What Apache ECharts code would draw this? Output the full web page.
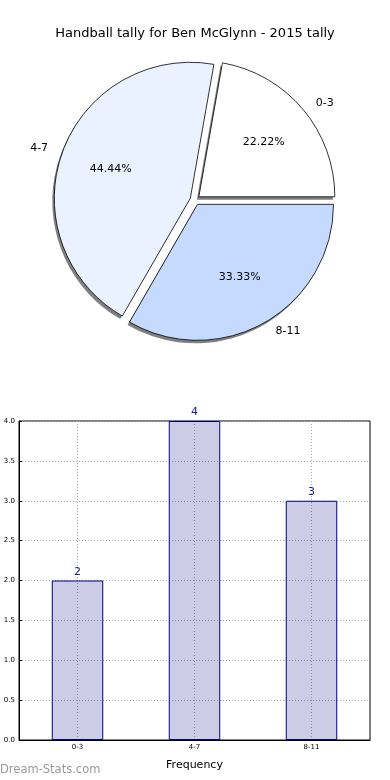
<!DOCTYPE html>
<html><head><meta charset="utf-8">
<script src="https://cdn.jsdelivr.net/npm/echarts@6/dist/echarts.min.js"></script>
<style>html,body{margin:0;padding:0;background:#fff}#c{width:390px;height:780px}</style>
</head><body><div id="c"></div>
<script>
var categories = ['0-3', '4-7', '8-11'];
var counts = [2, 4, 3];
var pieColors = ['#ffffff', '#eaf1ff', '#c6d9ff'];
var yTicks = [0, 0.5, 1, 1.5, 2, 2.5, 3, 3.5, 4];

var font = 'DejaVu Sans';
var total = counts.reduce(function (a, b) { return a + b; }, 0);
var pieData = categories.map(function (c, i) {
  return { name: c, value: counts[i], selected: true, itemStyle: { color: pieColors[i] } };
});
var plainData = categories.map(function (c, i) {
  return { name: c, value: counts[i], selected: true };
});

var pieCenter = [195, 200];
var pieR = 136;

var chart = echarts.init(document.getElementById('c'));
chart.setOption({
  animation: false,
  title: {
    text: 'Handball tally for Ben McGlynn - 2015 tally',
    left: 'center', top: 22,
    textStyle: { fontFamily: font, fontSize: 13, fontWeight: 'normal', color: '#000' }
  },
  graphic: [{
    type: 'text', left: 0, top: 764,
    style: { text: 'Dream-Stats.com', fontFamily: font, fontSize: 11.5, fontWeight: 'normal', fill: '#999999' }
  }],
  grid: { left: 19, top: 421, width: 351, height: 319, show: true, borderColor: '#000', borderWidth: 1, containLabel: false },
  xAxis: {
    type: 'category', data: categories,
    axisLine: { lineStyle: { color: '#000' } },
    axisTick: { alignWithLabel: true, length: 3, lineStyle: { color: '#000' } },
    axisLabel: { fontFamily: font, fontSize: 7, color: '#000', margin: 4 },
    splitLine: { show: true, alignWithLabel: true, lineStyle: { type: [1, 2], color: '#aaa' } },
    name: 'Frequency', nameLocation: 'middle', nameGap: 20,
    nameTextStyle: { fontFamily: font, fontSize: 11, color: '#000' }
  },
  yAxis: {
    type: 'value', min: 0, max: 4, interval: 0.5,
    axisLine: { show: true, lineStyle: { color: '#000' } },
    axisTick: { show: true, inside: true, length: 3, lineStyle: { color: '#000' } },
    axisLabel: { fontFamily: font, fontSize: 7, color: '#000', margin: 4,
      formatter: function (v) { return v.toFixed(1); } },
    splitLine: { show: true, lineStyle: { type: [1, 2], color: '#aaa' } }
  },
  series: [
    {
      type: 'pie', center: [pieCenter[0] - 2, pieCenter[1] + 3], radius: pieR,
      startAngle: 0, clockwise: false,
      selectedMode: 'multiple', selectedOffset: 5,
      data: plainData,
      itemStyle: { color: '#808080', borderWidth: 0 },
      label: { show: false }, labelLine: { show: false },
      emphasis: { disabled: true }, silent: true, z: 1
    },
    {
      type: 'pie', center: pieCenter, radius: pieR,
      startAngle: 0, clockwise: false,
      selectedMode: 'multiple', selectedOffset: 5,
      data: pieData,
      itemStyle: { borderColor: '#000', borderWidth: 0.8 },
      label: { position: 'outside', fontFamily: font, fontSize: 11, color: '#000', formatter: '{b}' },
      labelLine: { show: false, length: 10, length2: 0 },
      emphasis: { disabled: true },
      silent: true, z: 2
    },
    {
      type: 'pie', center: pieCenter, radius: pieR * 1.2,
      startAngle: 0, clockwise: false,
      selectedMode: 'multiple', selectedOffset: 5,
      data: plainData,
      itemStyle: { color: 'rgba(0,0,0,0)', borderWidth: 0 },
      label: { position: 'inside', fontFamily: font, fontSize: 11, color: '#000',
        formatter: function (p) { return (p.value / total * 100).toFixed(2) + '%'; } },
      labelLine: { show: false },
      emphasis: { disabled: true },
      silent: true, z: 3
    },
    {
      type: 'bar', data: counts, barWidth: '44%',
      itemStyle: { color: 'rgba(0,0,128,0.2)', borderColor: '#000080', borderWidth: 1 },
      label: { show: true, position: 'top', distance: 3, fontFamily: font, fontSize: 11, color: '#1a1a8c' },
      silent: true
    }
  ]
});
</script></body></html>
